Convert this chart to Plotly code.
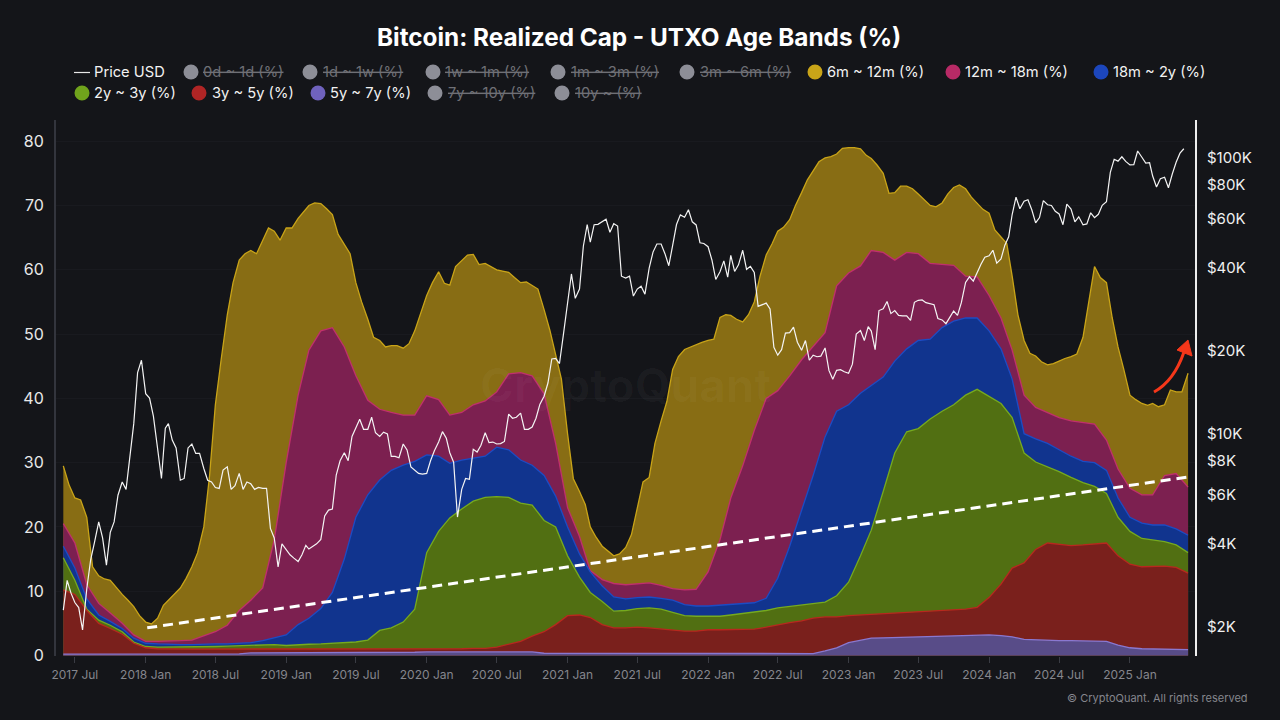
import plotly.graph_objects as go

TITLE = "Bitcoin: Realized Cap - UTXO Age Bands (%)"
LEFT_TICKS = [0, 10, 20, 30, 40, 50, 60, 70, 80]
PRICE_TICKS = [2000, 4000, 6000, 8000, 10000, 20000, 40000, 60000, 80000, 100000]
PRICE_LABELS = ["$2K", "$4K", "$6K", "$8K", "$10K", "$20K", "$40K", "$60K", "$80K", "$100K"]

# Upper edge of each band in the stack (%), newest band last
top_6m_12m = [
 29.5,26.5,24.5,24.2,21.5,13.8,12.4,11.9,11.7,10.6,9.5,8.6,7.6,6.2,5.2,4.9,5.8,7.8,8.6,9.6,10.5,12,13.8,16,20,28,39,46,53,58,
 61.5,62.5,63,62.5,64.5,66.5,66,64.6,66.5,66.5,68,69,70,70.4,70.3,69.5,68.6,65.5,64,62.5,58,55,52.3,49.5,49,48,48.2,48.2,47.8,48.5,
 50.5,53,56,58,59.7,57.9,57.6,60.5,61.5,62.3,62.4,60.8,61,60.5,60,59.8,59.6,58.8,58,58.1,57.6,57,53.8,50.6,46.8,43,34.5,27.5,25.5,23.5,
 20,18.4,17,16.2,15.5,15.8,16.8,18.8,22.8,27,27.7,33,36.5,39.5,44.5,46.5,47.6,48,48.3,48.7,49,49.2,52.6,53,52.9,52.3,51.9,53,55,59,
 62.3,64,66,66.6,67.8,70,72,74,75.4,76.8,77.4,77.6,78,78.9,79,79,78.8,77.8,77.3,76.3,75,71.9,72,73,73,72.6,71.8,71,70,69.8,
 70.4,71.8,72.8,73.2,72.6,71.3,70.3,69.4,68.8,66.2,65.1,64.1,59,53,49,47,46.6,45.7,45.2,45.4,45.8,46.2,46.5,46.9,49.5,55,60.5,58.8,58,52.5,
 48,44.5,40.5,39.8,39.2,38.9,39.2,38.7,39,41.3,41,41,43.9]
top_12m_18m = [
 20.5,17.5,11,8.1,6.6,5,3.2,2.2,2.2,2.2,2.3,2.4,3,3.7,4.7,7,8.6,10.5,18,30,40.5,47.5,50.5,51,48,43.5,39.7,38.3,37.8,37.4,37.4,40.4,
 39.8,37.4,37.8,39,39.6,41,43.8,44,43.5,40.7,33,23,18.5,13.2,11.8,11.2,11,11.2,11.3,10.9,10.4,10.2,10.3,13,18,24.5,29.5,35,40,41.2,
 43.5,46,48,50.2,57.5,59.5,60.6,63,62.7,61.5,62.7,62.5,61,60.9,60.7,59,58.9,56,52.5,47.5,40.5,38.6,37.8,37,36.5,36.2,36,33.5,29,26,25,25,28,28.3,26.2]
top_18m_2y = [
 17,13.6,8.8,6.3,5.3,4.2,2.7,1.9,1.8,1.7,1.7,1.7,1.8,1.8,1.8,1.9,2,2.3,2.7,3.2,4.8,5.8,7.3,9.8,15,21.5,25,27.3,28.8,29.6,30.2,31.2,
 31,29.9,30.4,30.7,31,32.4,32,30.4,29.6,28,24.8,20,15.8,13,10.8,9.1,8.8,9,9.1,8.9,8.6,7.9,7.7,7.7,7.8,7.9,8,8.2,8.9,12,
 17,22.5,28,34,38,39,40.8,42,43.3,45.8,47.7,49,49.2,51,52,52.5,52.5,50.5,47.7,43,34.5,33.7,33,32,31,30.2,30,28.8,24.5,21.5,20.6,20.3,20.3,19.7,18.7]
top_2y_3y = [
 15.2,11.7,7.2,5.5,4.7,3.7,2.1,1.4,1.3,1.3,1.3,1.3,1.35,1.4,1.45,1.5,1.55,1.6,1.7,1.55,1.7,1.75,1.8,1.9,2,2.1,2.4,3.9,4.3,5.2,7.2,16,
 19.3,21.4,22.8,24,24.6,24.7,24.6,23.7,23.4,21,20,15.5,12.2,9.8,8.4,6.9,7,7.3,7.4,7.2,6.7,6.2,6.1,6.1,6.1,6.3,6.5,6.7,7,7.4,
 7.6,7.9,8.1,8.3,9.3,11.4,15.5,19.5,25.5,31.5,34.8,35.3,36.8,38,39,40.5,41.4,40.3,39.2,37,31.5,30.1,29.4,28.6,27.7,26.9,26.3,25.2,21.5,19.3,18.2,18,17.7,17.2,16]
top_3y_5y = [
 10.2,9.5,7,5,4.2,3.3,1.9,1.2,1.05,1,1,1,1,1,1,1,1,1,1.05,0.95,1,1,1,1,1,1,1,1,1,1,1,1,
 1,1,1.05,1.1,1.1,1.3,1.7,2.2,3,3.7,4.8,6.2,6.3,5.9,4.8,4.3,4.3,4.4,4.3,4.1,4,3.8,3.8,4,4,4,4.1,4.1,4.4,4.8,
 5.1,5.4,5.8,6,6,6.2,6.3,6.4,6.5,6.6,6.7,6.8,6.9,7,7.1,7.2,7.5,9,11.1,13.6,14.4,16.5,17.5,17.3,17.1,17.2,17.3,17.5,15.5,14.2,13.8,13.8,13.9,13.7,12.8]
top_5y_7y = [
 0.2,0.2,0.2,0.2,0.2,0.2,0.2,0.2,0.25,0.25,0.25,0.25,0.25,0.25,0.25,0.25,0.4,0.4,0.4,0.4,0.5,0.5,0.5,0.5,0.5,0.5,0.5,0.5,0.5,0.5,0.5,0.55,
 0.55,0.55,0.55,0.55,0.55,0.55,0.55,0.55,0.55,0.35,0.35,0.35,0.35,0.35,0.35,0.35,0.35,0.35,0.35,0.25,0.25,0.25,0.25,0.25,0.25,0.25,0.25,0.25,0.25,0.3,
 0.3,0.3,0.3,0.7,1.2,2,2.4,2.7,2.75,2.8,2.9,2.95,3,3,3.1,3.2,3.2,3.2,3.1,2.9,2.5,2.4,2.3,2.3,2.3,2.3,2.3,2.2,1.6,1.2,1.05,1,1,0.95,0.9]

# Price USD, three readings a month
price_usd = [
 2300,2950,2650,2450,2350,1950,2750,3500,4050,4800,4200,3350,4400,4800,6000,6700,6300,8100,10900,16700,18500,
 14000,13500,11600,9000,6900,10500,10900,9500,8900,6800,6900,8900,9200,8500,8500,7500,6800,6700,6400,6350,7400,7600,6300,6500,7200,6300,6700,6600,6300,6400,6350,6350,4550,4200,3300,4000,
 3800,3650,3550,3450,3650,3950,3830,3900,4000,4150,5050,5300,5350,7100,8000,8550,8000,9800,10600,11300,10400,10400,11500,10100,9800,10150,10000,8300,8300,8200,9200,8750,7600,7400,7200,7150,
 7200,8000,8700,9350,10200,9650,8550,7900,5000,6300,6900,6850,8800,8600,9100,10100,9300,9350,9200,9230,9400,11800,11400,11500,11900,10400,10400,10600,11400,12800,13700,15300,18700,18800,18000,22800,
 29300,38000,31000,33500,47900,57400,49600,57300,57500,59000,60000,53800,57800,56700,37300,36700,37300,31600,33500,34300,32100,39900,45600,48800,48800,45000,40700,48200,57400,62200,61000,64900,58700,57200,49300,49000,
 47700,42700,36300,38700,42400,37000,44400,38800,41000,46300,39500,40500,38500,29000,29400,29800,28400,20600,19300,20200,23200,23300,24400,21500,20100,21800,18500,19300,19050,19150,20500,17000,15800,17000,17100,16800,
 16600,17900,23000,23700,21800,24500,23600,20200,28000,28400,30200,27300,28000,26900,26800,26800,25800,30000,30500,30600,29900,29700,29400,26200,25900,25100,26600,27900,26900,29900,35400,37100,35800,38700,41200,43700,
 44200,46300,41600,43100,48300,51800,62400,72100,65500,69700,70600,64900,58200,60800,70100,67700,67300,64100,62700,57300,68000,65300,58700,61200,57300,57700,63300,60800,62500,67400,69500,88700,98900,97400,101000,97200,
 94400,94600,106000,100600,95800,96100,86000,78500,84100,85200,78000,87500,96500,104100,108000]

trend_dates = ["2018-01-05", "2025-06-05"]
trend_values = [4.3, 27.8]

months = [(2017, m) for m in range(6, 13)] + [(y, m) for y in range(2018, 2025) for m in range(1, 13)] + [(2025, m) for m in range(1, 6)]
dates_month = [f"{y}-{m:02d}-01" for y, m in months] + ["2025-06-01"]
dates_half = [f"{y}-{m:02d}-{d}" for y, m in months for d in ("01", "16")] + ["2025-06-01"]
dates_third = [f"{y}-{m:02d}-{d}" for y, m in months for d in ("01", "11", "21")] + ["2025-06-01"]

W, H = 1280, 720
L, R, T, B = 56, 1195, 120, 656
BG = "#141519"
def px(x): return (x - L) / (R - L)
def py(y): return (B - y) / (B - T)

bands = [
 ("6m ~ 12m (%)", top_6m_12m, dates_half, "#c9a418", "#886d14"),
 ("12m ~ 18m (%)", top_12m_18m, dates_month, "#c0306c", "#7c2050"),
 ("18m ~ 2y (%)", top_18m_2y, dates_month, "#1c4cc4", "#11348e"),
 ("2y ~ 3y (%)", top_2y_3y, dates_month, "#76aa1e", "#516f12"),
 ("3y ~ 5y (%)", top_3y_5y, dates_month, "#b8281e", "#7a201c"),
 ("5y ~ 7y (%)", top_5y_7y, dates_month, "#8a78d0", "#584c88"),
]

fig = go.Figure()
for name, vals, ds, lc, fc in bands:
    fig.add_trace(go.Scatter(x=ds[:len(vals)], y=vals, name=name, mode="lines", fill="tozeroy",
                             fillcolor=fc, line=dict(color=lc, width=1.3), yaxis="y"))
fig.add_trace(go.Scatter(x=trend_dates, y=trend_values, name="trend", mode="lines",
                         line=dict(color="#ffffff", width=3, dash="10px,6px"), yaxis="y"))
fig.add_trace(go.Scatter(x=dates_third[:len(price_usd)], y=price_usd, name="Price USD", mode="lines",
                         line=dict(color="#f4f4f4", width=1.2), yaxis="y2"))

FONT = "Inter"
ann = []
shapes = []

def legend_text(x, y, text, on):
    t = text if on else f"<s>{text}</s>"
    ann.append(dict(xref="paper", yref="paper", x=px(x - 2), y=py(y), text=t, showarrow=False,
                    xanchor="left", yanchor="middle", align="left",
                    font=dict(family=FONT, size=14.7, color="#f2f2f2" if on else "#6f7076")))

def legend_dot(x, y, color):
    rx = 7.5
    shapes.append(dict(type="circle", xref="paper", yref="paper", x0=px(x - rx), x1=px(x + rx),
                       y0=py(y + rx), y1=py(y - rx), fillcolor=color, line=dict(width=0), layer="above"))

GREY = "#8d8e97"
row1 = [(191, 203, "0d ~ 1d (%)", GREY, False), (310, 323, "1d ~ 1w (%)", GREY, False),
        (433, 445, "1w ~ 1m (%)", GREY, False), (558, 571, "1m ~ 3m (%)", GREY, False),
        (687, 700, "3m ~ 6m (%)", GREY, False), (815, 827, "6m ~ 12m (%)", "#c9a418", True),
        (953, 965, "12m ~ 18m (%)", "#b82a66", True), (1101, 1113, "18m ~ 2y (%)", "#1c46bc", True)]
row2 = [(82, 94, "2y ~ 3y (%)", "#70a31c", True), (199, 212, "3y ~ 5y (%)", "#b02525", True),
        (318, 330, "5y ~ 7y (%)", "#6f62bd", True), (435, 448, "7y ~ 10y (%)", GREY, False),
        (562, 575, "10y ~ (%)", GREY, False)]
for cx, tx, text, col, on in row1:
    legend_dot(cx, 72, col); legend_text(tx, 72, text, on)
for cx, tx, text, col, on in row2:
    legend_dot(cx, 93, col); legend_text(tx, 93, text, on)
legend_text(94, 72, "Price USD", True)
shapes.append(dict(type="line", xref="paper", yref="paper", x0=px(74), x1=px(90), y0=py(72.5), y1=py(72.5),
                   line=dict(color="#e8e8e8", width=1.2)))

ann.append(dict(xref="paper", yref="paper", x=px(638.5), y=py(37), text=f"<b>{TITLE}</b>", showarrow=False,
                xanchor="center", yanchor="middle", font=dict(family=FONT, size=24.3, color="#ffffff")))
ann.append(dict(xref="paper", yref="paper", x=px(1250), y=py(698), text="© CryptoQuant. All rights reserved",
                showarrow=False, xanchor="right", yanchor="middle",
                font=dict(family=FONT, size=11, color="#85868d")))
ann.append(dict(xref="paper", yref="paper", x=px(625), y=py(385), text="<b>CryptoQuant</b>", showarrow=False,
                xanchor="center", yanchor="middle", font=dict(family=FONT, size=46, color="rgba(255,255,255,0.03)")))

# red arrow
def P(x, y): return f"{px(x):.5f} {py(y):.5f}"
arrow_curve = f"M {P(1154, 392)} Q {P(1174, 381)} {P(1184, 352)}"
arrow_head = f"M {P(1177, 350)} L {P(1188, 340)} L {P(1192, 356)} Z"
shapes.append(dict(type="path", xref="paper", yref="paper", path=arrow_curve, line=dict(color="#f5371a", width=3), layer="above"))
shapes.append(dict(type="path", xref="paper", yref="paper", path=arrow_head, fillcolor="#f5371a", line=dict(color="#f5371a", width=1), layer="above"))

fig.update_layout(
    width=W, height=H, autosize=False, showlegend=False, paper_bgcolor=BG, plot_bgcolor=BG,
    margin=dict(l=L, r=W - R, t=T, b=H - B, pad=0),
    font=dict(family=FONT),
    annotations=ann, shapes=shapes,
    xaxis=dict(type="date", range=["2017-05-13", "2025-06-19"], tick0="2017-07-01", dtick="M6", tickformat="%Y %b",
               ticks="outside", ticklen=6, tickcolor="#3a3c44", tickwidth=1, ticklabelstandoff=2,
               tickfont=dict(family=FONT, size=12, color="#85868d"), showgrid=False, zeroline=False, showline=False),
    yaxis=dict(range=[-0.08, 83.3], tickvals=LEFT_TICKS, ticks="outside", ticklen=7, tickcolor="rgba(0,0,0,0)",
               tickfont=dict(family=FONT, size=16, color="#e8e8e8"), showgrid=True, gridcolor="#191a1f", gridwidth=1,
               zeroline=False, showline=True, linecolor="#33353d", linewidth=2),
    yaxis2=dict(type="log", range=[3.1956, 5.1376], overlaying="y", side="right", tickvals=PRICE_TICKS, ticktext=PRICE_LABELS,
                ticks="outside", ticklen=7, tickcolor="rgba(0,0,0,0)",
                tickfont=dict(family=FONT, size=15, color="#f0f0f0"), showgrid=False, zeroline=False,
                showline=True, linecolor="#eeeeee", linewidth=2),
)

fig.write_html("out.html", config=dict(displayModeBar=False), post_script="document.body.style.margin='0';")
